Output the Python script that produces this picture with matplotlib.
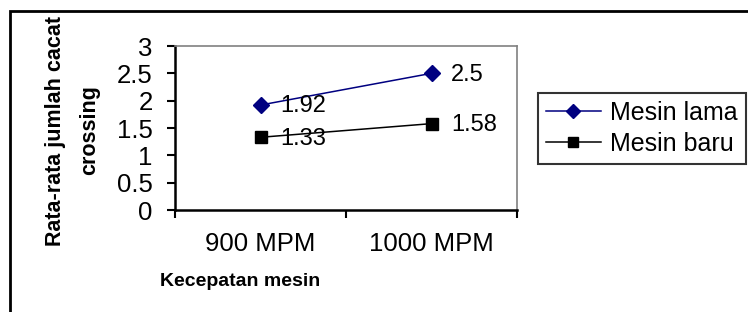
import matplotlib
matplotlib.use("Agg")
import matplotlib.pyplot as plt
from matplotlib.patches import Rectangle

# data
categories = ["900 MPM", "1000 MPM"]
series_names = ["Mesin lama", "Mesin baru"]
mesin_lama = [1.92, 2.5]
mesin_baru = [1.33, 1.58]
y_ticks = [0, 0.5, 1, 1.5, 2, 2.5, 3]
y_tick_labels = ["0", "0.5", "1", "1.5", "2", "2.5", "3"]

W, H = 748, 312
plt.rcParams["font.family"] = ["Liberation Sans", "DejaVu Sans"]

fig = plt.figure(figsize=(W / 100, H / 100), dpi=100)

def fx(px):
    return px / W

def fy(py):
    return 1 - py / H

# outer chart border (runs off the right/bottom edge like the crop)
fig.patches.append(Rectangle((fx(10), fy(330)), fx(760) - fx(10), (330 - 11) / H,
                             fill=False, lw=2, ec="black",
                             transform=fig.transFigure))

ax = fig.add_axes([fx(175), fy(210), 342 / W, 164 / H])

xs = [i + 0.5 for i in range(len(categories))]
l1, = ax.plot(xs, mesin_lama, color="#000080", marker="D", ms=8, lw=1.1)
l2, = ax.plot(xs, mesin_baru, color="black", marker="s", ms=8, lw=1.1)

for vals in (mesin_lama, mesin_baru):
    for x, v in zip(xs, vals):
        ax.annotate(f"{v:g}", (x, v), xytext=(14, -1), textcoords="offset points",
                    ha="left", va="center", fontsize=17)

ax.set_xlim(0, len(categories))
ax.set_ylim(0, 3)
ax.set_yticks(y_ticks, y_tick_labels)
ax.set_xticks(range(len(categories) + 1), [""] * (len(categories) + 1))
ax.set_xticks(xs, categories, minor=True)
ax.tick_params(axis="y", length=6, width=1.5, pad=10, labelsize=18.5)
ax.tick_params(axis="x", which="major", length=6, width=1.5)
ax.tick_params(axis="x", which="minor", length=0, pad=16, labelsize=18.5)

for s in ("left", "bottom"):
    ax.spines[s].set_linewidth(1.8)
    ax.spines[s].set_color("black")
for s in ("top", "right"):
    ax.spines[s].set_linewidth(1.2)
    ax.spines[s].set_color("#808080")

fig.text(fx(55), fy(131), "Rata-rata jumlah cacat", rotation=90, fontsize=15.5,
         fontweight="bold", ha="center", va="center")
fig.text(fx(90), fy(130), "crossing", rotation=90, fontsize=15.5,
         fontweight="bold", ha="center", va="center")
fig.text(fx(240), fy(281), "Kecepatan mesin", fontsize=14,
         fontweight="bold", ha="center", va="center")

leg = fig.legend([l1, l2], series_names, loc="upper left",
                 bbox_to_anchor=(fx(538), fy(93)), fontsize=18,
                 frameon=True, fancybox=False, edgecolor="black",
                 handlelength=2.2, handletextpad=0.4, borderpad=0.3,
                 labelspacing=0.3, borderaxespad=0, markerscale=0.85)
leg.get_frame().set_linewidth(1.5)

fig.savefig("out.png", dpi=100)
